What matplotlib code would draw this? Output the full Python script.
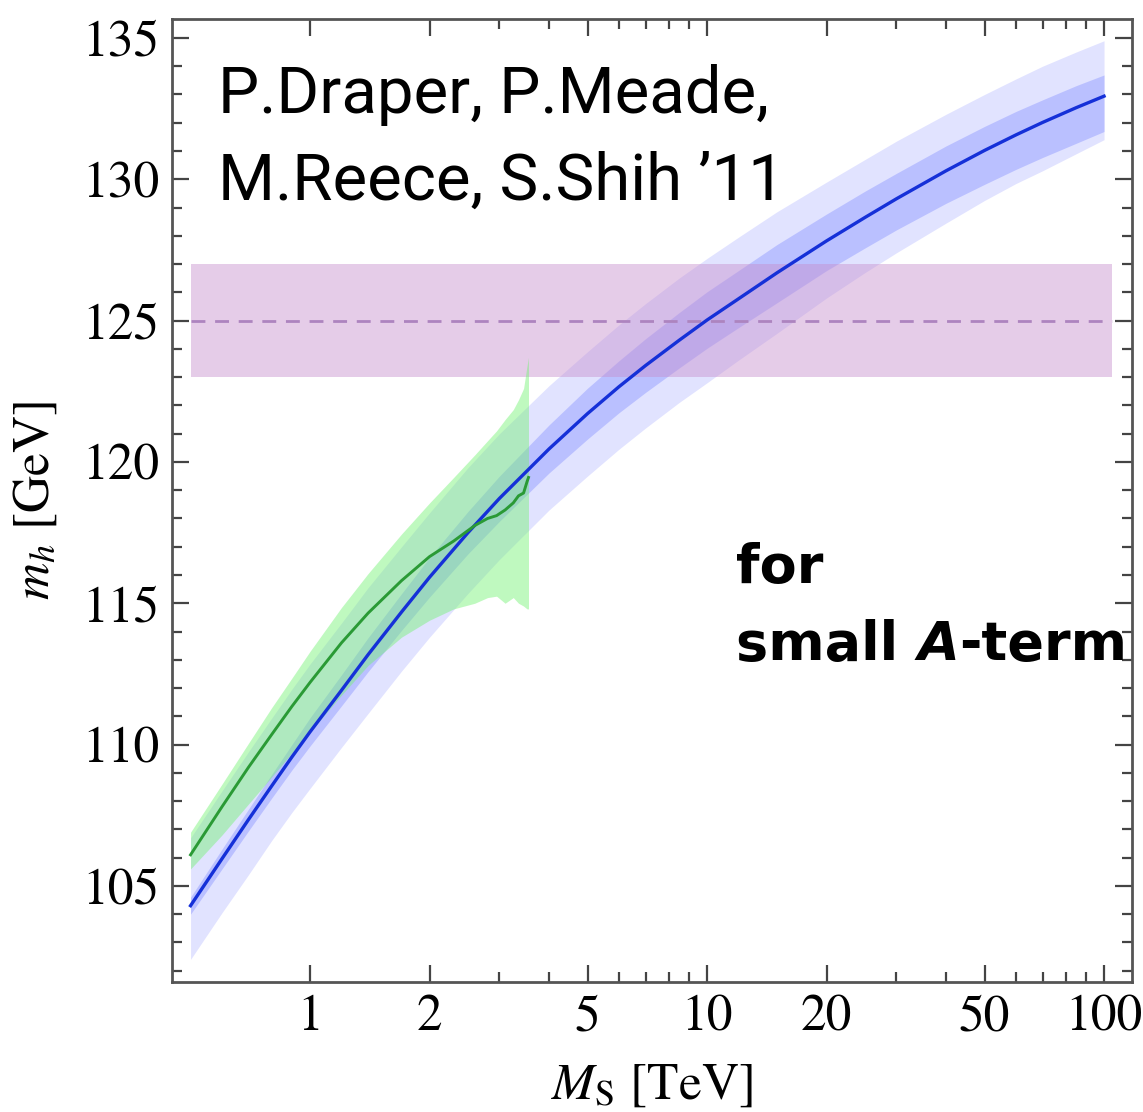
import numpy as np
import matplotlib
matplotlib.use("Agg")
import matplotlib.pyplot as plt
from matplotlib.ticker import FixedLocator, NullFormatter, FixedFormatter

# ── data ──────────────────────────────────────────────────────────────────────
BLUE_X = [0.5, 0.6, 0.7, 0.8, 0.9, 1.0, 1.2, 1.4, 1.7, 2.0, 2.5, 3.0, 4.0, 5.0,
          6.0, 7.0, 8.5, 10, 12, 15, 20, 25, 30, 40, 50, 60, 70, 85, 100]
BLUE_Y = [104.3, 105.96, 107.35, 108.53, 109.56, 110.45, 111.92, 113.18, 114.69,
          115.92, 117.50, 118.71, 120.46, 121.71, 122.66, 123.41, 124.30, 125.02,
          125.77, 126.69, 127.82, 128.65, 129.31, 130.30, 131.02, 131.57, 132.01,
          132.53, 132.94]
BLUE_DK_HI = [104.6, 106.3, 107.72, 108.94, 110.0, 110.95, 112.47, 113.78, 115.34,
              116.62, 118.25, 119.5, 121.31, 122.61, 123.58, 124.36, 125.28, 126.02,
              126.77, 127.69, 128.77, 129.58, 130.21, 131.18, 131.87, 132.4, 132.81,
              133.31, 133.69]
BLUE_DK_LO = [104.0, 105.6, 106.95, 108.1, 109.1, 109.95, 111.37, 112.58, 114.04,
              115.22, 116.75, 117.9, 119.61, 120.81, 121.74, 122.46, 123.32, 124.02,
              124.75, 125.63, 126.77, 127.57, 128.21, 129.15, 129.82, 130.35, 130.77,
              131.27, 131.69]
BLUE_LT_HI = [106.7, 108.36, 109.75, 110.93, 111.96, 112.85, 114.3, 115.55, 117.0,
              118.2, 119.8, 121.0, 122.7, 123.9, 124.85, 125.6, 126.5, 127.2,
              127.95, 128.85, 129.9, 130.7, 131.35, 132.3, 133.0, 133.55, 134.0,
              134.5, 134.9]
BLUE_LT_LO = [102.4, 104.05, 105.4, 106.6, 107.6, 108.45, 109.9, 111.1, 112.6,
              113.8, 115.35, 116.55, 118.3, 119.5, 120.45, 121.2, 122.1, 122.8,
              123.6, 124.55, 125.8, 126.7, 127.4, 128.45, 129.25, 129.85, 130.3,
              130.9, 131.4]

GREEN_X  = [0.5, 0.6, 0.7, 0.8, 0.9, 1.0, 1.2, 1.4, 1.7, 2.0, 2.3, 2.6, 2.8,
            2.95, 3.1, 3.25, 3.35, 3.45, 3.52, 3.55]
GREEN_Y  = [106.1, 107.8, 109.2, 110.35, 111.35, 112.2, 113.6, 114.65, 115.8,
            116.65, 117.2, 117.75, 118.0, 118.1, 118.3, 118.55, 118.8, 118.9,
            119.3, 119.45]
GREEN_HI = [106.9, 108.6, 110.05, 111.3, 112.35, 113.3, 114.85, 116.05, 117.45,
            118.55, 119.45, 120.25, 120.75, 121.1, 121.5, 121.85, 122.2, 122.6,
            123.4, 123.7]
GREEN_LO = [105.6, 106.8, 107.9, 108.85, 109.7, 110.45, 111.75, 112.8, 113.8,
            114.4, 114.8, 115.0, 115.2, 115.25, 115.0, 115.2, 115.0, 114.9,
            114.8, 114.8]

EXP_X      = [0.5, 105]
EXP_CENTER = 125.0
EXP_LO     = 123.0
EXP_HI     = 127.0

X_MAJOR  = [1, 2, 5, 10, 20, 50, 100]
X_LABELS = ["1", "2", "5", "10", "20", "50", "100"]
X_MINOR  = [3, 4, 6, 7, 8, 9, 30, 40, 60, 70, 80, 90]
Y_MAJOR  = [105, 110, 115, 120, 125, 130, 135]

# ── style ─────────────────────────────────────────────────────────────────────
plt.rcParams["font.family"] = ["STIXGeneral", "DejaVu Serif"]
plt.rcParams["mathtext.fontset"] = "stix"

W, H = 1143, 1112
fig = plt.figure(figsize=(W / 100, H / 100), dpi=100)
ax = fig.add_axes([172 / W, (H - 982) / H, 960 / W, 963 / H])

# bands
ax.fill_between(BLUE_X, BLUE_LT_LO, BLUE_LT_HI, color=(0.62, 0.64, 1.0),
                alpha=0.30, lw=0, zorder=1)
ax.fill_between(BLUE_X, BLUE_DK_LO, BLUE_DK_HI, color=(0.45, 0.50, 1.0),
                alpha=0.35, lw=0, zorder=2)
ax.fill_between(EXP_X, [EXP_LO] * 2, [EXP_HI] * 2, color=(0.78, 0.56, 0.80),
                alpha=0.45, lw=0, zorder=3)
ax.fill_between(GREEN_X, GREEN_LO, GREEN_HI, color=(0.45, 0.95, 0.45),
                alpha=0.45, lw=0, zorder=4)

# lines
ax.plot(EXP_X, [EXP_CENTER] * 2, ls=(0, (5, 3.5)), color="#ad84bf", lw=2.0, zorder=5)
ax.plot(BLUE_X, BLUE_Y, color="#1530d8", lw=2.4, zorder=6)
ax.plot(GREEN_X, GREEN_Y, color="#2a9a35", lw=2.1, zorder=7)

# axes
ax.set_xscale("log")
ax.set_xlim(0.449, 117.6)
ax.set_ylim(101.6, 135.67)

ax.xaxis.set_major_locator(FixedLocator(X_MAJOR))
ax.xaxis.set_major_formatter(FixedFormatter(X_LABELS))
ax.xaxis.set_minor_locator(FixedLocator(X_MINOR))
ax.xaxis.set_minor_formatter(NullFormatter())
ax.yaxis.set_major_locator(FixedLocator(Y_MAJOR))
ax.yaxis.set_minor_locator(FixedLocator(np.arange(102, 136, 1)))

ax.tick_params(which="both", direction="in", top=True, right=True,
               color="#444444", width=1.6, labelsize=37, pad=9)
ax.tick_params(which="major", length=12)
ax.tick_params(which="minor", length=7)
for s in ax.spines.values():
    s.set_linewidth(2.0)
    s.set_color("#555555")

ax.set_xlabel(r"$M_\mathrm{S}$ [TeV]", fontsize=37, labelpad=16)
ax.set_ylabel(r"$m_h$ [GeV]", fontsize=37, labelpad=16)

# annotations
cite = dict(transform=ax.transAxes, fontsize=47, family=["Roboto", "DejaVu Sans"],
            fontweight="normal", va="baseline", ha="left", color="black")
ax.text(0.048, 0.902, "P.Draper, P.Meade,", **cite)
ax.text(0.048, 0.812, "M.Reece, S.Shih \u201911", **cite)

note = dict(fontsize=39, family="DejaVu Sans", fontweight="bold", color="black")
ax.text(0.588, 0.414, "for", transform=ax.transAxes, va="baseline", **note)
t1 = ax.text(0.588, 0.334, "small ", transform=ax.transAxes, va="baseline", **note)
t2 = ax.annotate("A", xy=(1, 0), xycoords=t1, va="bottom", ha="left",
                 fontstyle="italic", **note)
ax.annotate("-term", xy=(1, 0), xycoords=t2, va="bottom", ha="left", **note)

fig.savefig("out.png", dpi=100, facecolor="white")
